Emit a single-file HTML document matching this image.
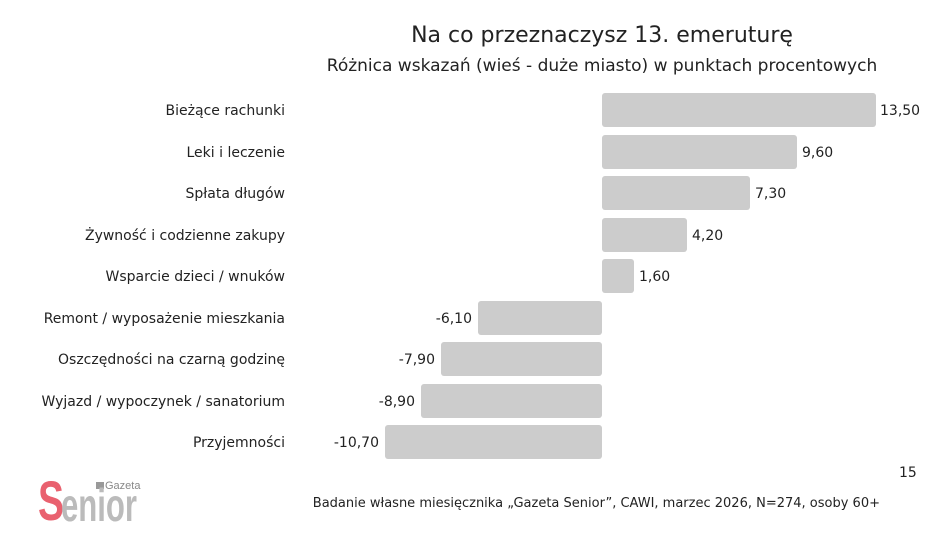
<!DOCTYPE html>
<html><head><meta charset="utf-8"><style>
body{margin:0;background:#fff;font-family:"Liberation Sans","DejaVu Sans",sans-serif;color:#222}
</style></head><body>
<svg width="949" height="537" xmlns="http://www.w3.org/2000/svg" font-family="'DejaVu Sans','Liberation Sans',sans-serif">
<rect width="949" height="537" fill="#fff"/>
<text x="602" y="42" font-size="22" text-anchor="middle" fill="#222">Na co przeznaczysz 13. emeruturę</text>
<text x="602" y="71" font-size="17" text-anchor="middle" fill="#222">Różnica wskazań (wieś - duże miasto) w punktach procentowych</text>
<g font-size="14" fill="#222">
<g fill="#cccccc">
<rect x="602" y="93" width="274" height="34" rx="3"/>
<rect x="602" y="135" width="195" height="34" rx="3"/>
<rect x="602" y="176" width="148" height="34" rx="3"/>
<rect x="602" y="218" width="85" height="34" rx="3"/>
<rect x="602" y="259" width="32" height="34" rx="3"/>
<rect x="478" y="301" width="124" height="34" rx="3"/>
<rect x="441" y="342" width="161" height="34" rx="3"/>
<rect x="421" y="384" width="181" height="34" rx="3"/>
<rect x="385" y="425" width="217" height="34" rx="3"/>
</g>
<g text-anchor="end">
<text x="285" y="115">Bieżące rachunki</text>
<text x="285" y="157">Leki i leczenie</text>
<text x="285" y="198">Spłata długów</text>
<text x="285" y="240">Żywność i codzienne zakupy</text>
<text x="285" y="281">Wsparcie dzieci / wnuków</text>
<text x="285" y="323">Remont / wyposażenie mieszkania</text>
<text x="285" y="364">Oszczędności na czarną godzinę</text>
<text x="285" y="406">Wyjazd / wypoczynek / sanatorium</text>
<text x="285" y="447">Przyjemności</text>
<text x="472" y="323">-6,10</text>
<text x="435" y="364">-7,90</text>
<text x="415" y="406">-8,90</text>
<text x="379" y="447">-10,70</text>
</g>
<text x="880" y="115">13,50</text>
<text x="802" y="157">9,60</text>
<text x="755" y="198">7,30</text>
<text x="692" y="240">4,20</text>
<text x="639" y="281">1,60</text>
<text x="899" y="477">15</text>
</g>
<text x="880" y="507" font-size="13" text-anchor="end" fill="#222">Badanie własne miesięcznika „Gazeta Senior”, CAWI, marzec 2026, N=274, osoby 60+</text>
<g font-family="'Liberation Sans Narrow','Liberation Sans',sans-serif" font-weight="bold">
<rect x="96" y="482" width="8" height="7" fill="#999"/>
<text x="38" y="520" font-size="56" fill="#e9616f" textLength="26" lengthAdjust="spacingAndGlyphs">S</text>
<text x="61" y="521" font-size="46" fill="#bbb" textLength="76" lengthAdjust="spacingAndGlyphs">enior</text>
<text x="105" y="489" font-size="11" font-weight="normal" fill="#888" font-family="'Liberation Sans',sans-serif">Gazeta</text>
</g>
</svg>
</body></html>
